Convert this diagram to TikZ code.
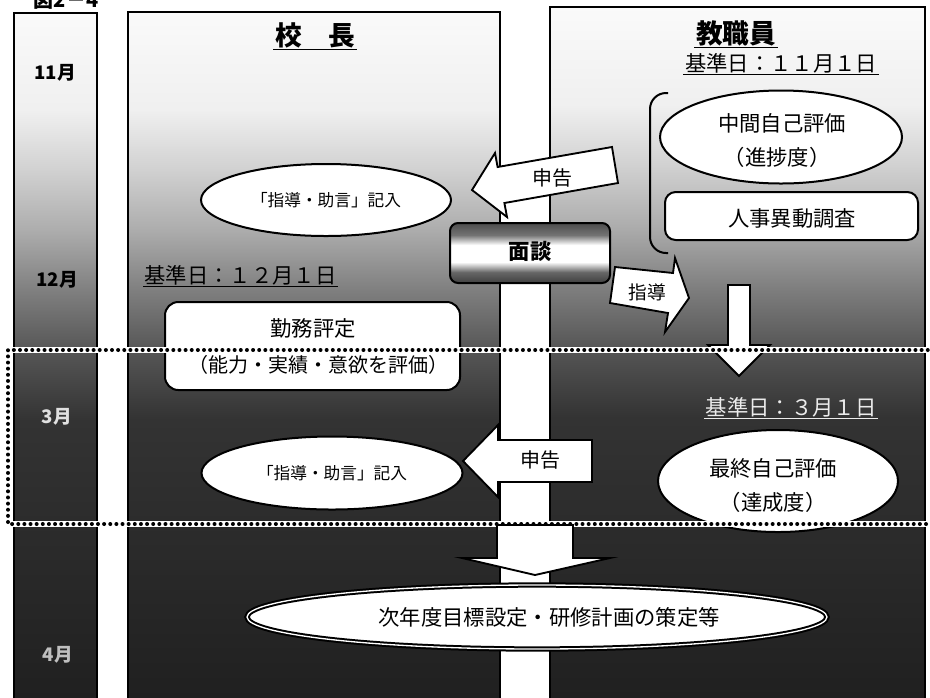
\documentclass[tikz,border=0pt]{standalone}
\usepackage{fontspec}
\setmainfont{Noto Sans CJK JP}
\usetikzlibrary{shapes.geometric}
\pgfdeclareverticalshading{panelshade}{100bp}{color(0bp)=(black!88); color(25bp)=(black!88); color(46.2bp)=(black!80); color(51.2bp)=(black!66); color(55.4bp)=(black!50); color(59.7bp)=(black!32); color(63.9bp)=(black!18); color(68.1bp)=(black!6); color(75bp)=(black!2); color(100bp)=(black!2)}
\pgfdeclareverticalshading{mendanshade}{100bp}{color(0bp)=(black!75); color(25bp)=(black!75); color(34bp)=(black!60); color(42.5bp)=(white); color(56.7bp)=(white); color(65bp)=(black!55); color(75bp)=(black!70); color(100bp)=(black!70)}
\begin{document}
\begin{tikzpicture}[x=0.75pt,y=-0.75pt,
  oval/.style={ellipse, draw, line width=1.5pt, fill=white, inner sep=0pt},
  rbox/.style={draw, line width=1.5pt, fill=white, inner sep=0pt},
  barrow/.style={draw, line width=1.4pt, fill=white, line join=miter},
  frameline/.style={line width=1.5pt},
  lbl/.style={inner sep=0pt, font=\fontsize{16}{18}\selectfont},
  small/.style={inner sep=0pt, font=\fontsize{12.5}{14}\selectfont},
  headtxt/.style={inner sep=1pt, font=\bfseries\fontsize{20}{22}\selectfont},
  month/.style={inner sep=0pt, font=\bfseries\fontsize{14}{16}\selectfont},
  uline/.style={line width=1.2pt}]
\useasboundingbox (0,0) rectangle (930,697);
\clip (0,0) rectangle (930,697);
\fill[white] (0,0) rectangle (930,697);

% title (cut at top in the reference)
\node[inner sep=0pt, font=\bfseries\fontsize{15}{16}\selectfont] (title) at (66,0) {図2－4};

% panels
\shade[shading=panelshade] (14,13) rectangle (97,720);
\draw[frameline] (14,720) -- (14,13) -- (97,13) -- (97,720);
\shade[shading=panelshade] (128,12) rectangle (500,720);
\draw[frameline] (128,720) -- (128,12) -- (500,12) -- (500,720);
\shade[shading=panelshade] (550,7) rectangle (925,720);
\draw[frameline] (550,720) -- (550,7) -- (925,7) -- (925,720);

% months
\node[month] (m11) at (55,73) {11月};
\node[month] (m12) at (57,280) {12月};
\node[month, text=black!12] (m3) at (57,417) {3月};
\node[month, text=black!25] (m4) at (58,655) {4月};

% headers
\node[headtxt] (hk) at (315,35) {校　長};
\draw[uline] (hk.south west) -- (hk.south east);
\node[headtxt] (hs) at (736,33) {教職員};
\draw[uline] (hs.south west) -- (hs.south east);
\node[lbl, inner sep=1pt] (k11) at (781,63) {基準日：１１月１日};
\draw[uline] (k11.south west) -- (k11.south east);
\node[lbl, inner sep=1pt, anchor=west] (k12) at (143,275) {基準日：１２月１日};
\draw[uline] (k12.south west) -- (k12.south east);
\node[lbl, inner sep=1pt, text=black!8] (k3) at (791,407) {基準日：３月１日};
\draw[uline, black!8] (k3.south west) -- (k3.south east);

% principal side
\node[oval, minimum width={250*0.75pt}, minimum height={72*0.75pt}] (e1) at (326,200) {};
\node[small] (e1t) at (e1.center) {「指導・助言」記入};
\node[rbox, rounded corners=10pt, minimum width={295*0.75pt}, minimum height={88*0.75pt}] (kin) at (312.5,346) {};
\node[lbl] (kin1) at (313,328) {勤務評定};
\node[lbl, font=\fontsize{15}{17}\selectfont] (kin2) at (318,365) {（能力・実績・意欲を評価）};
\node[oval, minimum width={261*0.75pt}, minimum height={73*0.75pt}] (e2) at (332,473) {};
\node[small] (e2t) at (e2.center) {「指導・助言」記入};

% staff side
\draw[frameline, rounded corners=12pt] (668,93) -- (650,93) -- (650,253) -- (668,253);
\node[oval, minimum width={242*0.75pt}, minimum height={93*0.75pt}] (e3) at (781,137) {};
\node[lbl] (e3a) at (782,123) {中間自己評価};
\node[lbl] (e3b) at (777,157) {（進捗度）};
\node[rbox, rounded corners=8pt, minimum width={253*0.75pt}, minimum height={48*0.75pt}] (jin) at (791.5,216) {};
\node[lbl] (jint) at (792,218) {人事異動調査};
\draw[barrow] (728,285) -- (750,285) -- (750,345) -- (770,345) -- (739,376) -- (708,345) -- (728,345) -- cycle;
\node[oval, minimum width={240*0.75pt}, minimum height={102*0.75pt}] (e4) at (778,481) {};
\node[lbl] (e4a) at (773,468) {最終自己評価};
\node[lbl] (e4b) at (773,502) {（達成度）};

% centre
\draw[barrow] (472,190) -- (495,153) -- (497.6,167) -- (612,147) -- (618,183) -- (504.4,203) -- (507,217) -- cycle;
\node[lbl, font=\fontsize{15}{17}\selectfont] (s1) at (552,178) {申告};
\node[draw, line width=1.5pt, rounded corners=6pt, shading=mendanshade, minimum width={160*0.75pt}, minimum height={60*0.75pt}, inner sep=0pt] (men) at (530,253) {};
\node[inner sep=0pt, font=\bfseries\fontsize{16}{18}\selectfont] (ment) at (530,251) {面談};
\draw[barrow] (610,303) -- (615,267) -- (673,273) -- (675,258) -- (689,298) -- (665,332) -- (668,313) -- cycle;
\node[lbl, font=\fontsize{14}{16}\selectfont] (sd) at (647,292) {指導};
\draw[barrow] (463,461) -- (498,425) -- (498,440) -- (592,440) -- (592,482) -- (498,482) -- (498,497) -- cycle;
\node[lbl, font=\fontsize{15}{17}\selectfont] (s2) at (540,460) {申告};

% dotted frame
\draw[white, line width=4.8pt] (940,350) -- (8,350) -- (8,524) -- (940,524);
\draw[line width=3pt, dash pattern=on 0pt off 4.6pt, line cap=round] (940,350) -- (8,350) -- (8,524) -- (940,524);

% bottom
\draw[barrow] (497,525) -- (573,525) -- (573,558) -- (610,558) -- (535,575) -- (462,558) -- (497,558) -- cycle;
\node[oval, double=white, double distance=1pt, minimum width={580*0.75pt}, minimum height={64*0.75pt}] (e5) at (537,617) {};
\node[lbl] (e5t) at (549,617) {次年度目標設定・研修計画の策定等};
\end{tikzpicture}
\end{document}
